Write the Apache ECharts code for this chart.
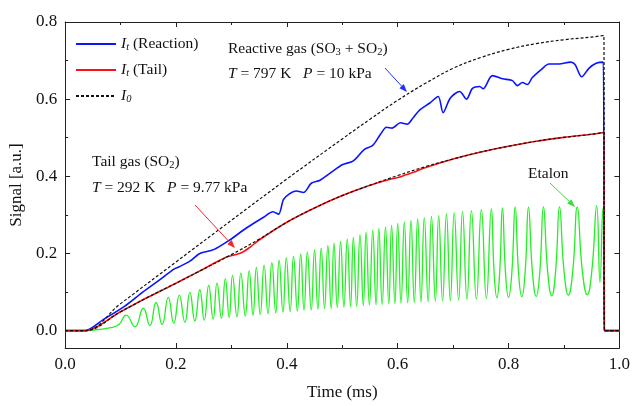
<!DOCTYPE html>
<html><head><meta charset="utf-8">
<script src="https://cdn.jsdelivr.net/npm/echarts@6/dist/echarts.min.js"></script>
<style>html,body{margin:0;padding:0;background:#fff}#c{width:633px;height:406px}</style>
</head><body><div id="c"></div>
<script>
const FONT = '"Liberation Serif", "Times New Roman", serif';

// ---- data (time in ms, signal in a.u.) ----
const xLabelTicks = [0, 0.2, 0.4, 0.6, 0.8, 1.0];
const yMajorTicks = [0, 0.2, 0.4, 0.6, 0.8];
const yMinorTicks = [0.1, 0.3, 0.5, 0.7];

const i0Reaction = [[0,0],[0.035,0],[0.1,0.07],[0.2,0.178],[0.3,0.286],[0.4,0.393],[0.5,0.497],[0.55,0.548],[0.6,0.597],[0.65,0.641],[0.7,0.68],[0.75,0.708],[0.8,0.729],[0.85,0.744],[0.9,0.754],[0.95,0.761],[0.972,0.765],[0.973,0],[1,0]];

const itReaction = [[0,0],[0.035,0],[0.07,0.03],[0.107,0.063],[0.14,0.1],[0.166,0.127],[0.197,0.16],[0.205,0.165],[0.225,0.18],[0.243,0.2],[0.268,0.21],[0.297,0.235],[0.327,0.266],[0.358,0.294],[0.375,0.308],[0.385,0.302],[0.394,0.34],[0.404,0.354],[0.417,0.362],[0.43,0.358],[0.444,0.382],[0.46,0.39],[0.48,0.41],[0.5,0.43],[0.52,0.44],[0.54,0.47],[0.555,0.48],[0.569,0.509],[0.58,0.527],[0.59,0.525],[0.605,0.539],[0.617,0.535],[0.628,0.552],[0.64,0.572],[0.658,0.59],[0.673,0.607],[0.682,0.565],[0.695,0.603],[0.712,0.62],[0.724,0.6],[0.735,0.628],[0.748,0.633],[0.754,0.627],[0.771,0.661],[0.789,0.653],[0.807,0.648],[0.816,0.635],[0.825,0.643],[0.834,0.638],[0.843,0.656],[0.86,0.678],[0.873,0.691],[0.891,0.691],[0.912,0.696],[0.92,0.69],[0.932,0.658],[0.945,0.68],[0.958,0.693],[0.971,0.696],[0.973,0],[1,0]];

const itTail = [[0,0],[0.035,0],[0.1,0.049],[0.15,0.087],[0.2,0.123],[0.238,0.151],[0.29,0.19],[0.305,0.196],[0.32,0.203],[0.335,0.218],[0.35,0.235],[0.4,0.281],[0.45,0.318],[0.5,0.35],[0.55,0.377],[0.585,0.392],[0.6,0.397],[0.615,0.404],[0.63,0.411],[0.645,0.42],[0.7,0.445],[0.75,0.463],[0.8,0.478],[0.85,0.491],[0.9,0.501],[0.95,0.509],[0.972,0.514],[0.973,0],[1,0]];

const i0Tail = [[0,0],[0.035,0],[0.1,0.049],[0.15,0.087],[0.2,0.123],[0.238,0.151],[0.3,0.197],[0.35,0.237],[0.4,0.281],[0.45,0.318],[0.5,0.35],[0.55,0.377],[0.6,0.402],[0.65,0.425],[0.7,0.445],[0.75,0.463],[0.8,0.478],[0.85,0.491],[0.9,0.501],[0.95,0.509],[0.972,0.514],[0.973,0],[1,0]];

const etalonStart = [[0,0],[0.035,0],[0.06,0.003],[0.08,0.007],[0.097,0.016]];
const etalonPeaks = [[0.110,0.04],[0.141,0.058],[0.164,0.073],[0.186,0.086],[0.206,0.092],[0.225,0.099],[0.243,0.106],[0.259,0.117],[0.274,0.123],[0.289,0.134],[0.302,0.143],[0.317,0.149],[0.332,0.155],[0.345,0.164],[0.359,0.17],[0.373,0.176],[0.386,0.183],[0.399,0.189],[0.412,0.193],[0.425,0.199],[0.437,0.204],[0.450,0.21],[0.462,0.214],[0.474,0.22],[0.485,0.227],[0.497,0.231],[0.509,0.237],[0.520,0.242],[0.532,0.248],[0.543,0.255],[0.555,0.26],[0.566,0.265],[0.578,0.269],[0.589,0.273],[0.600,0.278],[0.612,0.282],[0.624,0.286],[0.636,0.29],[0.648,0.293],[0.661,0.296],[0.674,0.299],[0.688,0.303],[0.702,0.306],[0.717,0.309],[0.733,0.311],[0.751,0.314],[0.769,0.316],[0.789,0.318],[0.812,0.32],[0.836,0.32],[0.863,0.321],[0.892,0.321],[0.924,0.32],[0.959,0.324],[0.970,0.316]];
const etalonTroughs = [[0.126,0.01],[0.153,0.013],[0.175,0.016],[0.196,0.019],[0.216,0.022],[0.234,0.025],[0.251,0.027],[0.267,0.03],[0.282,0.032],[0.296,0.034],[0.310,0.036],[0.325,0.038],[0.339,0.04],[0.352,0.042],[0.366,0.044],[0.380,0.046],[0.393,0.048],[0.406,0.05],[0.419,0.051],[0.431,0.053],[0.444,0.054],[0.456,0.056],[0.468,0.057],[0.480,0.058],[0.491,0.06],[0.503,0.061],[0.515,0.062],[0.526,0.063],[0.538,0.065],[0.549,0.066],[0.561,0.067],[0.572,0.068],[0.584,0.069],[0.595,0.07],[0.606,0.071],[0.618,0.072],[0.630,0.073],[0.642,0.074],[0.655,0.075],[0.668,0.076],[0.681,0.077],[0.695,0.078],[0.710,0.079],[0.725,0.081],[0.742,0.082],[0.760,0.083],[0.779,0.085],[0.800,0.086],[0.824,0.088],[0.850,0.089],[0.878,0.09],[0.908,0.092],[0.942,0.093],[0.965,0.125]];
// flanks of the wide, flat-bottomed fringes at late times
const etalonFlanks = [[0.774,0.15],[0.784,0.15],[0.7945,0.151],[0.806,0.151],[0.818,0.152],[0.830,0.152],[0.843,0.154],[0.8565,0.154],[0.8705,0.155],[0.885,0.155],[0.900,0.156],[0.916,0.156],[0.933,0.157],[0.9505,0.158]];
const etalonEnd = [[0.9725,0.13],[0.973,0],[1,0]];

// ---- build ----
const etalon = etalonStart.concat(etalonPeaks, etalonTroughs, etalonFlanks, etalonEnd)
  .slice().sort((a, b) => a[0] - b[0]);

const chart = echarts.init(document.getElementById('c'), null, {renderer: 'canvas'});
const AX = '#222';
const fmt = v => v.toFixed(1);

function xAx(pos, labels) {
  return {
    type: 'value', min: 0, max: 1, interval: 0.2, position: pos,
    axisLine: {show: true, onZero: false, lineStyle: {color: AX, width: 1}},
    axisTick: {show: true, inside: true, length: 5, lineStyle: {color: AX}},
    minorTick: {show: true, splitNumber: 2, length: 3, lineStyle: {color: AX}},
    axisLabel: {show: labels, formatter: fmt, fontFamily: FONT, fontSize: 17, color: '#111', margin: 8},
    splitLine: {show: false}, minorSplitLine: {show: false},
    name: labels ? 'Time (ms)' : '', nameLocation: 'middle', nameGap: 36,
    nameTextStyle: {fontFamily: FONT, fontSize: 17, color: '#111'}
  };
}
function yAx(pos, ticks, len, line, labels) {
  return {
    type: 'value', min: -0.045, max: 0.8, position: pos,
    axisLine: {show: line, onZero: false, lineStyle: {color: AX, width: 1}},
    axisTick: {show: true, inside: true, length: len, customValues: ticks, lineStyle: {color: AX}},
    axisLabel: {show: labels, customValues: yMajorTicks, formatter: fmt, fontFamily: FONT, fontSize: 17, color: '#111', margin: 8},
    splitLine: {show: false},
    name: labels ? 'Signal [a.u.]' : '', nameLocation: 'middle', nameGap: 35, nameRotate: 90,
    nameTextStyle: {fontFamily: FONT, fontSize: 17, color: '#111'}
  };
}

const legendMap = {
  'reaction': '{i|I}{s|t}{n| (Reaction)}',
  'tail': '{i|I}{s|t}{n| (Tail)}',
  'i0': '{i|I}{s|0}'
};
const rich = {
  i: {fontFamily: FONT, fontStyle: 'italic', fontSize: 15.5, color: '#111', lineHeight: 18},
  s: {fontFamily: FONT, fontStyle: 'italic', fontSize: 10.5, color: '#111', lineHeight: 6, verticalAlign: 'bottom'},
  n: {fontFamily: FONT, fontSize: 15.5, color: '#111', lineHeight: 18},
  sn: {fontFamily: FONT, fontSize: 10.5, color: '#111', lineHeight: 6, verticalAlign: 'bottom'}
};

function lineSeries(name, data, color, width, type, z, smooth) {
  return {
    name, type: 'line', data, xAxisIndex: 0, yAxisIndex: 0,
    showSymbol: false, symbol: 'none', animation: false, z,
    smooth,
    lineStyle: {color, width, type}, itemStyle: {color}
  };
}

function arrow(x1, y1, x2, y2, color) {
  const a = Math.atan2(y2 - y1, x2 - x1), L = 8, W = 3;
  const bx = x2 - L * Math.cos(a), by = y2 - L * Math.sin(a);
  return [
    {type: 'line', shape: {x1, y1, x2: bx, y2: by}, style: {stroke: color, lineWidth: 1}, z: 100},
    {type: 'polygon', shape: {points: [[x2, y2], [bx + W * Math.sin(a), by - W * Math.cos(a)], [bx - W * Math.sin(a), by + W * Math.cos(a)]]}, style: {fill: color}, z: 100}
  ];
}
function txt(x, y, text) {
  return {type: 'text', x, y, z: 100, style: {text, rich, font: '15.5px ' + FONT, fill: '#111', verticalAlign: 'middle', align: 'left'}};
}

chart.setOption({
  animation: false,
  backgroundColor: '#fff',
  grid: {left: 62, right: 12, top: 22, bottom: 51, containLabel: false},
  xAxis: [xAx('bottom', true), xAx('top', false)],
  yAxis: [
    yAx('left', yMajorTicks, 5, true, true),
    yAx('left', yMinorTicks, 3, false, false),
    yAx('right', yMajorTicks, 5, true, false),
    yAx('right', yMinorTicks, 3, false, false)
  ],
  legend: {
    data: ['reaction', 'tail', 'i0'], orient: 'vertical', left: 70, top: 31,
    itemWidth: 40, itemHeight: 14, itemGap: 9,
    itemStyle: {opacity: 0, borderWidth: 0},
    formatter: n => legendMap[n],
    textStyle: {fontFamily: FONT, fontSize: 15.5, color: '#111', rich}
  },
  series: [
    lineSeries('reaction', itReaction, '#0a14ff', 1.6, 'solid', 3, 0.3),
    lineSeries('tail', itTail, '#ff1010', 1.6, 'solid', 3, 0.3),
    lineSeries('etalon', etalon, '#22f022', 1.3, 'solid', 2, 0.5),
    lineSeries('i0', i0Reaction, '#111', 1.2, [3, 2], 4, 0.4),
    lineSeries('i0tail', i0Tail, '#111', 1.2, [3, 2], 4, 0.4)
  ],
  graphic: [
    txt(228, 49, '{n|Reactive gas (SO}{sn|3}{n| + SO}{sn|2}{n|)}'),
    txt(228, 74, '{i|T}{n| = 797 K   }{i|P}{n| = 10 kPa}'),
    txt(92, 162, '{n|Tail gas (SO}{sn|2}{n|)}'),
    txt(92, 188, '{i|T}{n| = 292 K   }{i|P}{n| = 9.77 kPa}'),
    txt(528, 174, '{n|Etalon}'),
    ...arrow(385, 68, 407, 92, '#2030ff'),
    ...arrow(195, 205, 235, 248, '#ff2020'),
    ...arrow(550, 183, 575, 207, '#33e033')
  ]
});
</script></body></html>
